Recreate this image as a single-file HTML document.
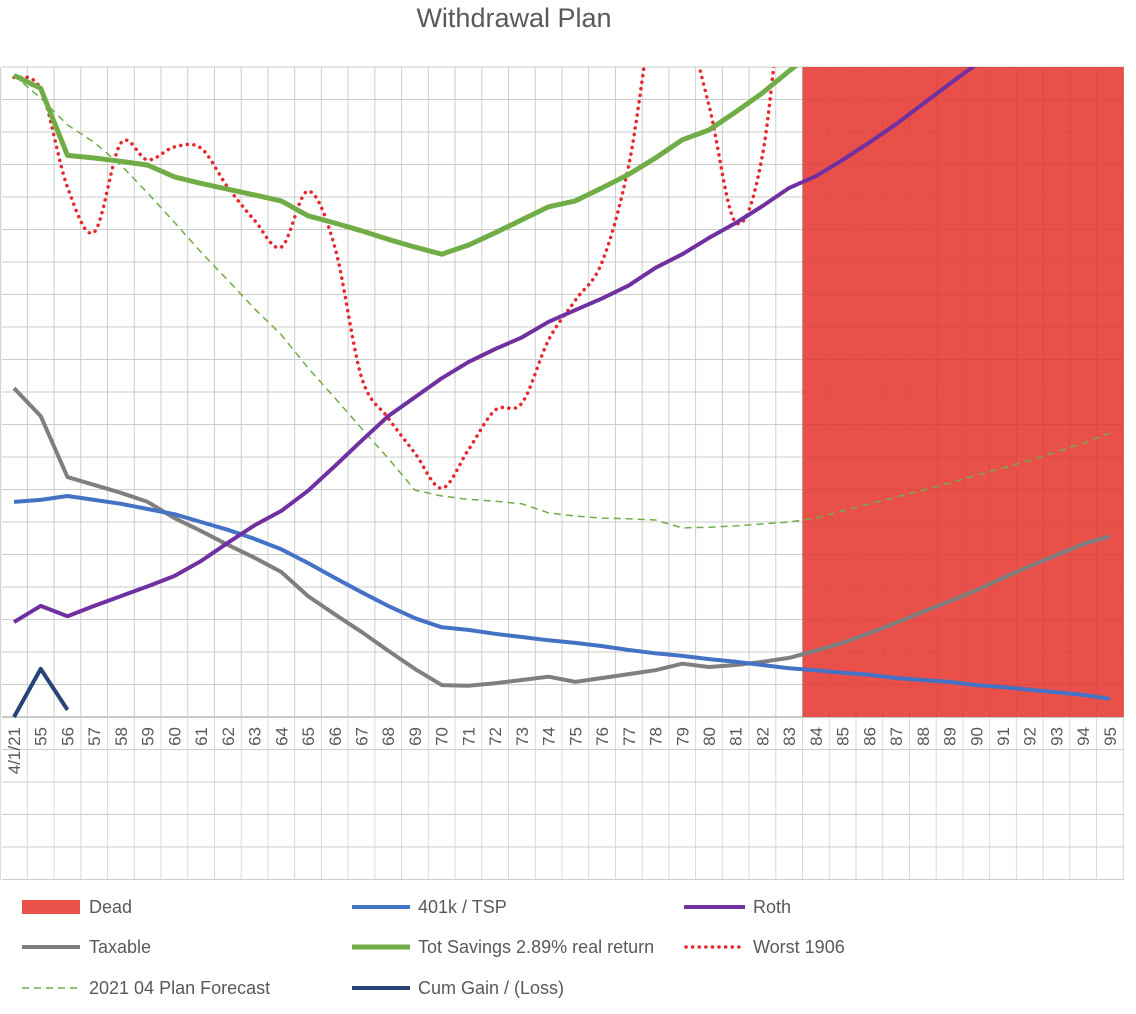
<!DOCTYPE html>
<html><head><meta charset="utf-8"><style>
html,body{margin:0;padding:0;background:#fff;}
svg{display:block;font-family:"Liberation Sans",sans-serif;}
</style></head><body>
<svg id="chart" width="1136" height="1014" viewBox="0 0 1136 1014">
<text x="514" y="27" text-anchor="middle" font-size="27" fill="#595959">Withdrawal Plan</text>
<defs><clipPath id="plotclip"><rect x="2" y="67" width="1122" height="814"/></clipPath></defs>
<g id="gridUnder"></g>
<g id="bars" clip-path="url(#plotclip)"></g>
<g id="gridOver"></g>
<g id="series" clip-path="url(#plotclip)"></g>
<g id="xlabels"></g>
<g id="legend">
<g><rect x="22" y="900" width="58" height="14" fill="#e9504a"/><text x="89" y="913" font-size="18" fill="#595959">Dead</text></g>
<g><line x1="352" y1="907" x2="410" y2="907" stroke="#4472c4" stroke-width="4"/><text x="418" y="913" font-size="18" fill="#595959">401k / TSP</text></g>
<g><line x1="684" y1="907" x2="745" y2="907" stroke="#7030a0" stroke-width="4"/><text x="753" y="913" font-size="18" fill="#595959">Roth</text></g>
<g><line x1="22" y1="947" x2="80" y2="947" stroke="#7f7f7f" stroke-width="4"/><text x="89" y="953" font-size="18" fill="#595959">Taxable</text></g>
<g><line x1="352" y1="947" x2="410" y2="947" stroke="#70ad47" stroke-width="5"/><text x="418" y="953" font-size="18" fill="#595959">Tot Savings 2.89% real return</text></g>
<g><line x1="686" y1="947" x2="745" y2="947" stroke="#e8262b" stroke-width="3.5" stroke-dasharray="0.1 6.5" stroke-linecap="round"/><text x="753" y="953" font-size="18" fill="#595959">Worst 1906</text></g>
<g><line x1="22" y1="988" x2="80" y2="988" stroke="#70ad47" stroke-width="1.5" stroke-dasharray="7 5"/><text x="89" y="994" font-size="18" fill="#595959">2021 04 Plan Forecast</text></g>
<g><line x1="352" y1="988" x2="410" y2="988" stroke="#264478" stroke-width="4"/><text x="418" y="994" font-size="18" fill="#595959">Cum Gain / (Loss)</text></g>
</g>
</svg>
<script>
const categories = ["4/1/21","55","56","57","58","59","60","61","62","63","64","65","66","67","68","69","70","71","72","73","74","75","76","77","78","79","80","81","82","83","84","85","86","87","88","89","90","91","92","93","94","95"];
const dead = [null,null,null,null,null,null,null,null,null,null,null,null,null,null,null,null,null,null,null,null,null,null,null,null,null,null,null,null,null,null,1200,1200,1200,1200,1200,1200,1200,1200,1200,1200,1200,1200];
const k401 = [331,334,340,334,328,320,312,300,288,274,258,237,214,192,171,152,138,134,128,123,118,114,109,103,98,94,89,85,80,75,72,68,65,60,57,54,49,46,42,38,34,28];
const roth = [146,171,155,171,186,201,217,240,268,295,317,348,386,425,463,492,521,546,566,584,608,626,644,664,691,712,737,760,786,814,832,857,884,912,943,974,1004,1035,1066,1098,1130,1162];
const taxable = [506,463,369,357,345,331,306,286,265,245,223,186,158,131,102,74,49,48,52,57,62,54,60,66,72,82,77,80,85,91,102,114,129,145,162,178,195,214,232,249,266,278];
const totSavings = [987,967,864,860,855,849,831,821,812,803,794,771,760,748,735,723,712,726,745,765,785,794,814,835,860,888,903,931,960,994,1026,1060,1095,1130,1165,1200,1235,1270,1305,1340,1375,1410];
const worst1906 = [984,966,815,746,883,857,877,875,815,764,723,809,723,523,460,406,352,411,472,483,580,641,700,849,1090,1080,941,761,864,1200,1300,1300,1300,1300,1300,1300,1300,1300,1300,1300,1300,1300];
const planForecast = [987,952,911,884,849,806,761,715,672,628,588,537,491,444,398,349,340,335,332,328,314,309,306,305,303,291,292,294,297,300,306,317,328,338,349,360,372,383,395,408,421,437];
const cumGain = [0,74,11];

const NS="http://www.w3.org/2000/svg";
const X0=14, STEP=26.73, Y0=717, PX_PER_UNIT=32.5/50;
const xs = i => X0 + i*STEP;
const ys = v => Y0 - v*PX_PER_UNIT;
function mk(tag, attrs, parent){const e=document.createElementNS(NS,tag);for(const k in attrs)e.setAttribute(k,attrs[k]);parent.appendChild(e);return e;}

// grid
const gu=document.getElementById('gridUnder'), go=document.getElementById('gridOver');
for(let i=0;i<=42;i++){
  const x=X0-STEP/2+i*STEP;
  const l=mk('line',{x1:x,y1:67,x2:x,y2:880,stroke:'#d9d9d9','stroke-width':1},gu);
  
  
  const l2=mk('line',{x1:x,y1:67,x2:x,y2:717,stroke:'rgba(0,0,0,0.05)','stroke-width':1},go);
  
  
}
for(let v=-250;v<=1000;v+=50){
  const y=ys(v);
  const l=mk('line',{x1:2,y1:y,x2:1124,y2:y,stroke:v===0?'#d0d0d0':'#d9d9d9','stroke-width':v===0?2:1},gu);
  
  
  const l2=mk('line',{x1:2,y1:y,x2:1124,y2:y,stroke:'rgba(0,0,0,0.05)','stroke-width':1},go);
  
  
}
// bars
const bg=document.getElementById('bars');
dead.forEach((v,i)=>{ if(v==null) return;
  const top=ys(v);
  const r=mk('rect',{x:xs(i)-STEP/2,y:top,width:STEP+0.5,height:Y0-top,fill:'#e9504a'},bg);
  
  
});
// lines
const sg=document.getElementById('series');
function linePath(arr){return arr.map((v,i)=>(i?'L':'M')+xs(i).toFixed(1)+' '+ys(v).toFixed(1)).join(' ');}
function smoothPath(arr){
  const p=arr.map((v,i)=>[xs(i),ys(v)]);
  let d='M'+p[0][0]+' '+p[0][1];
  for(let i=0;i<p.length-1;i++){
    const p0=p[i-1]||p[i],p1=p[i],p2=p[i+1],p3=p[i+2]||p2;
    const c1=[p1[0]+(p2[0]-p0[0])/6,p1[1]+(p2[1]-p0[1])/6];
    const c2=[p2[0]-(p3[0]-p1[0])/6,p2[1]-(p3[1]-p1[1])/6];
    d+=' C'+c1[0].toFixed(1)+' '+c1[1].toFixed(1)+' '+c2[0].toFixed(1)+' '+c2[1].toFixed(1)+' '+p2[0].toFixed(1)+' '+p2[1].toFixed(1);
  }
  return d;
}
function addLine(name,d,attrs){
  const e=mk('path',Object.assign({d:d,fill:'none','stroke-linejoin':'round'},attrs),sg);
  
  
}
addLine('plan-forecast-line',linePath(planForecast),{stroke:'#70ad47','stroke-width':1.5,'stroke-dasharray':'7 5'});
addLine('worst-1906-line',smoothPath(worst1906),{stroke:'#e8262b','stroke-width':3.5,'stroke-dasharray':'0.1 6.5','stroke-linecap':'round'});
addLine('taxable-line',linePath(taxable),{stroke:'#7f7f7f','stroke-width':4});
addLine('401k-tsp-line',linePath(k401),{stroke:'#4472c4','stroke-width':4});
addLine('roth-line',linePath(roth),{stroke:'#7030a0','stroke-width':4});
addLine('tot-savings-line',linePath(totSavings),{stroke:'#70ad47','stroke-width':5});
addLine('cum-gain-line',linePath(cumGain),{stroke:'#264478','stroke-width':4});
// x labels
const xl=document.getElementById('xlabels');
categories.forEach((c,i)=>{
  const x=xs(i)+6, y=727;
  const t=mk('text',{x:x,y:y,'text-anchor':'end','font-size':17,fill:'#595959',transform:'rotate(-90 '+x+' '+y+')'},xl);
  t.textContent=c;
  
  
});
</script>
</body></html>
